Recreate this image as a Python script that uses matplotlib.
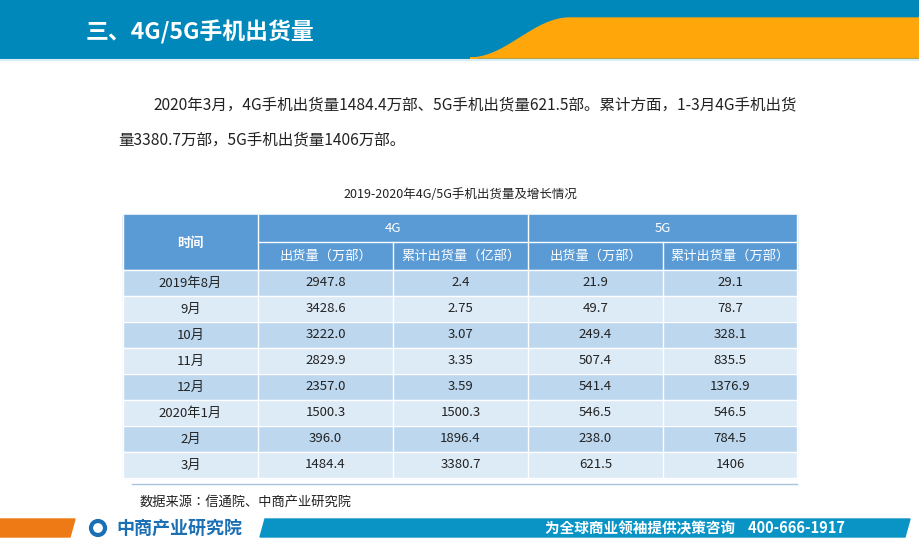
import matplotlib
matplotlib.use("Agg")
import matplotlib.pyplot as plt
from matplotlib.patches import Rectangle, Polygon
import numpy as np

plt.rcParams["font.family"] = ["Noto Sans CJK JP", "Noto Sans CJK SC", "DejaVu Sans"]

title = "三、4G/5G手机出货量"
para1 = "2020年3月，4G手机出货量1484.4万部、5G手机出货量621.5部。累计方面，1-3月4G手机出货"
para2 = "量3380.7万部，5G手机出货量1406万部。"
table_title = "2019-2020年4G/5G手机出货量及增长情况"
groups = ["4G", "5G"]
subheaders = ["出货量（万部）", "累计出货量（亿部）", "出货量（万部）", "累计出货量（万部）"]
months = ["2019年8月", "9月", "10月", "11月", "12月", "2020年1月", "2月", "3月"]
g4_ship = ["2947.8", "3428.6", "3222.0", "2829.9", "2357.0", "1500.3", "396.0", "1484.4"]
g4_cum = ["2.4", "2.75", "3.07", "3.35", "3.59", "1500.3", "1896.4", "3380.7"]
g5_ship = ["21.9", "49.7", "249.4", "507.4", "541.4", "546.5", "238.0", "621.5"]
g5_cum = ["29.1", "78.7", "328.1", "835.5", "1376.9", "546.5", "784.5", "1406"]
source = "数据来源：信通院、中商产业研究院"
footer_text = "为全球商业领袖提供决策咨询    400-666-1917"
logo = "中商产业研究院"

W, H = 920, 547
fig = plt.figure(figsize=(9.2, 5.47), dpi=100)
ax = fig.add_axes([0, 0, 1, 1])
ax.set_xlim(0, W); ax.set_ylim(H, 0); ax.axis("off")

BLUE = "#0088bb"
ORANGE = "#ffa70a"
ax.add_patch(Rectangle((0, 0), W, 58, color=BLUE, zorder=1))
t = np.linspace(0, 1, 50)
cx = 470 + 100 * t
cy = 58 - 40 * (0.5 - 0.5 * np.cos(np.pi * t))
pts = list(zip(cx, cy)) + [(W, 18), (W, 58)]
ax.add_patch(Polygon(pts, closed=True, color=ORANGE, zorder=2))
ax.plot([0, W], [59.5, 59.5], color="#d8eef7", lw=1.5, zorder=2)
ax.text(86, 32, title, color="white", fontsize=16.5, fontweight="bold", va="center", ha="left", zorder=3)

ax.text(153, 105, para1, fontsize=11.2, va="center", ha="left", color="#222222")
ax.text(118, 140, para2, fontsize=11.2, va="center", ha="left", color="#222222")
ax.text(460, 195, table_title, fontsize=9, va="center", ha="center", color="#222222")

x0 = 123
cols = [x0, 258, 393, 528, 663, 797]
y_top, y_h1, y_h2 = 215, 242, 270
rh = 26
HEAD = "#5b9bd5"
R1, R2 = "#bdd7ee", "#ddebf7"
ax.add_patch(Rectangle((cols[0], y_top), cols[-1] - cols[0], y_h2 - y_top, color=HEAD, zorder=1))
ax.text((cols[0] + cols[1]) / 2, (y_top + y_h2) / 2, "时间", color="white", fontsize=9.5, ha="center", va="center", fontweight="bold")
for gi, g in enumerate(groups):
    xa, xb = cols[1 + 2 * gi], cols[3 + 2 * gi]
    ax.text((xa + xb) / 2, (y_top + y_h1) / 2, g, color="white", fontsize=9.5, ha="center", va="center")
for i, s in enumerate(subheaders):
    ax.text((cols[i + 1] + cols[i + 2]) / 2, (y_h1 + y_h2) / 2, s, color="white", fontsize=9.5, ha="center", va="center")
columns = [months, g4_ship, g4_cum, g5_ship, g5_cum]
for r in range(len(months)):
    y = y_h2 + r * rh
    ax.add_patch(Rectangle((cols[0], y), cols[-1] - cols[0], rh, color=R1 if r % 2 == 0 else R2, zorder=1))
    for c, colvals in enumerate(columns):
        ax.text((cols[c] + cols[c + 1]) / 2, y + rh / 2, colvals[r], fontsize=9.5, ha="center", va="center", color="#222222", zorder=3)
y_bot = y_h2 + len(months) * rh
for xc in cols:
    ax.plot([xc, xc], [y_top if xc in (cols[0], cols[1], cols[3], cols[5]) else y_h1, y_bot], color="white", lw=1, zorder=2)
ax.plot([cols[1], cols[-1]], [y_h1, y_h1], color="white", lw=1, zorder=2)
for r in range(len(months) + 1):
    ax.plot([cols[0], cols[-1]], [y_h2 + r * rh, y_h2 + r * rh], color="white", lw=1, zorder=2)
ax.plot([132, 797], [484, 484], color="#a9c4e0", lw=1)
ax.text(140, 502, source, fontsize=9.5, va="center", ha="left", color="#222222")

ax.add_patch(Polygon([(0, 519), (75, 519), (70, 537), (0, 537)], color="#ee7a16", zorder=1))
ax.add_patch(Polygon([(265, 519), (910, 519), (905, 537), (260, 537)], color="#0a94c6", zorder=1))
ax.text(116, 528, logo, fontsize=13, fontweight="bold", color="#1a6fb5", va="center", ha="left")
ax.add_patch(plt.Circle((98, 528), 7, fill=False, lw=3, color="#1a6fb5"))
ax.text(845, 528, footer_text, fontsize=10.5, fontweight="bold", color="white", va="center", ha="right")

fig.savefig("out.png", dpi=100)
